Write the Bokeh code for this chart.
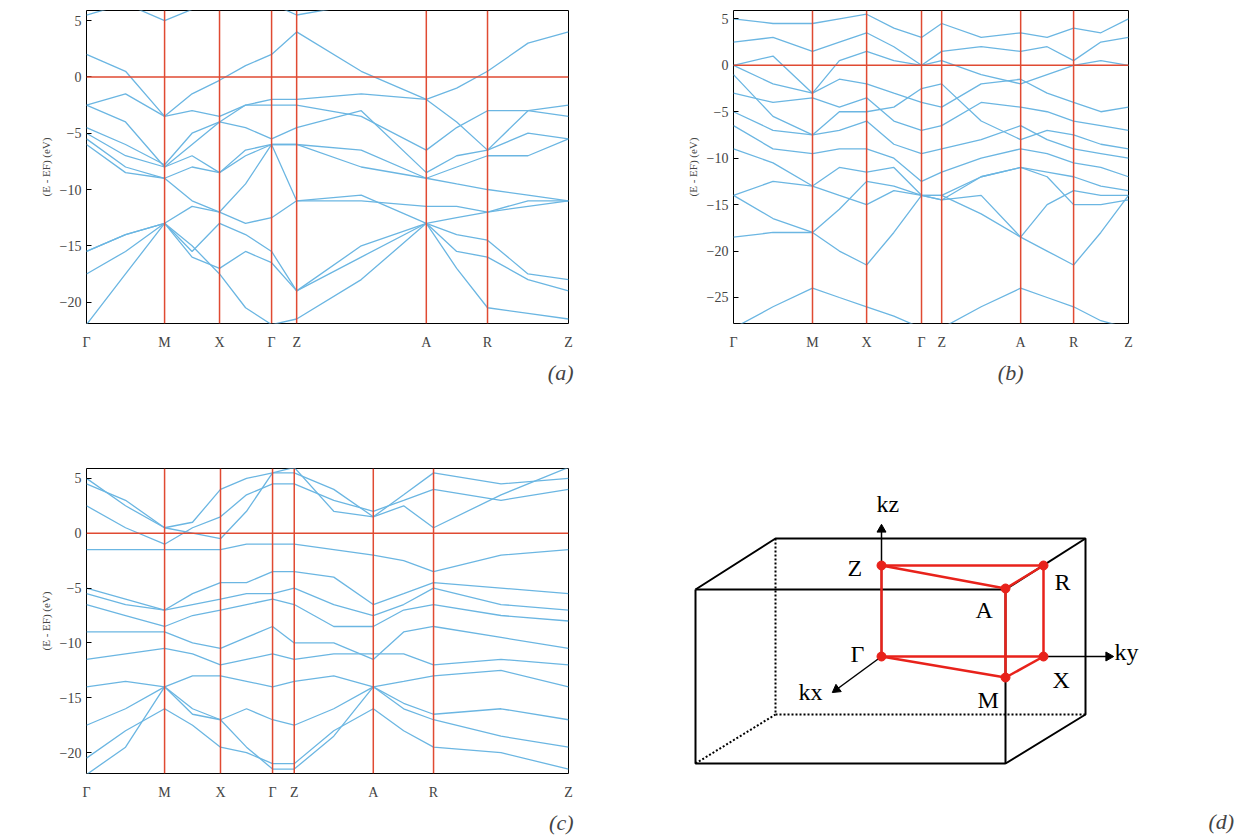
from bokeh.plotting import figure
from bokeh.layouts import column, row
from bokeh.models import FixedTicker, Span, Title, Range1d, Label
from bokeh.embed import file_html
from bokeh.resources import INLINE

# k-path (high-symmetry points) and the sample points used for each band
path_labels = ["Γ", "M", "X", "Γ", "Z", "A", "R", "Z"]
a_ticks = [0, 1.62, 2.76, 3.84, 4.36, 7.05, 8.32, 10]
a_k = [0, 0.81, 1.62, 2.19, 2.76, 3.30, 3.84, 4.36, 5.70, 7.05, 7.68, 8.32, 9.16, 10]
b_ticks = [0, 2.0, 3.37, 4.76, 5.27, 7.27, 8.61, 10]
b_k = [0, 1.0, 2.0, 2.68, 3.37, 4.06, 4.76, 5.27, 6.27, 7.27, 7.94, 8.61, 9.3, 10]
c_ticks = [0, 1.62, 2.78, 3.86, 4.31, 5.95, 7.2, 10]
c_k = [0, 0.81, 1.62, 2.2, 2.78, 3.32, 3.86, 4.31, 5.13, 5.95, 6.58, 7.2, 8.6, 10]

a_bands = [
    [2.0, 0.5, -3.5, -1.5, -0.3, 1.0, 2.0, 4.0, 0.5, -2.0, -1.0, 0.5, 3.0, 4.0],
    [5.5, 6.5, 5.0, 6.0, 6.5, 6.5, 6.5, 5.5, 6.5, 6.5, 6.5, 6.5, 6.5, 6.5],
    [-2.5, -4.0, -8.0, -6.0, -4.0, -2.5, -2.0, -2.0, -1.5, -2.0, -4.0, -6.5, -3.0, -2.5],
    [-2.5, -1.5, -3.5, -3.0, -3.5, -2.5, -2.5, -2.5, -3.5, -6.5, -4.5, -3.0, -3.0, -3.5],
    [-4.5, -6.0, -7.8, -5.0, -4.0, -4.5, -5.5, -4.5, -3.0, -8.5, -7.0, -6.5, -5.0, -5.5],
    [-5.0, -7.0, -8.0, -7.0, -8.5, -6.5, -6.0, -6.0, -6.5, -9.0, -8.0, -7.0, -7.0, -5.5],
    [-5.5, -8.0, -9.0, -8.0, -8.5, -7.0, -6.0, -6.0, -8.0, -9.0, -9.5, -10.0, -10.5, -11.0],
    [-6.0, -8.5, -9.0, -11.0, -12.0, -9.5, -6.0, -11.0, -11.0, -11.5, -11.5, -12.0, -11.5, -11.0],
    [-15.5, -14.0, -13.0, -11.5, -12.0, -13.0, -12.5, -11.0, -10.5, -13.0, -12.5, -12.0, -11.0, -11.0],
    [-15.5, -14.0, -13.0, -15.5, -13.0, -14.0, -15.5, -19.0, -15.0, -13.0, -14.0, -14.5, -17.5, -18.0],
    [-17.5, -15.5, -13.0, -16.0, -17.0, -15.5, -16.5, -19.0, -16.0, -13.0, -15.5, -16.0, -18.0, -19.0],
    [-22.0, -17.5, -13.0, -15.0, -17.5, -20.5, -22.0, -21.5, -18.0, -13.0, -17.0, -20.5, -21.0, -21.5],
]

b_bands = [
    [-28.3, -26.0, -24.0, -25.0, -26.0, -27.0, -28.3, -28.3, -26.0, -24.0, -25.0, -26.0, -27.5, -28.3],
    [-18.5, -18.0, -18.0, -20.0, -21.5, -18.0, -14.0, -14.0, -16.0, -18.5, -20.0, -21.5, -18.0, -14.0],
    [-14.0, -16.5, -18.0, -15.5, -12.5, -13.0, -14.0, -14.5, -14.0, -18.5, -15.0, -13.5, -14.0, -14.0],
    [-14.0, -12.5, -13.0, -14.0, -15.0, -13.5, -14.0, -14.5, -12.0, -11.0, -12.0, -15.0, -15.0, -14.5],
    [-9.0, -10.5, -13.0, -11.0, -11.5, -11.0, -14.0, -14.0, -12.0, -11.0, -11.5, -12.0, -13.0, -13.5],
    [-6.5, -9.0, -9.5, -9.0, -9.0, -10.0, -12.5, -11.5, -10.0, -9.0, -9.5, -10.5, -11.0, -12.0],
    [-5.0, -7.0, -7.5, -7.0, -6.0, -8.5, -9.5, -9.0, -8.0, -6.5, -8.0, -9.0, -9.5, -10.0],
    [-3.0, -4.0, -3.5, -4.5, -3.5, -6.0, -7.0, -6.5, -4.0, -4.5, -5.0, -6.0, -6.5, -7.0],
    [-1.0, -5.5, -7.5, -5.0, -5.0, -4.5, -2.5, -2.0, -6.0, -8.0, -7.0, -7.5, -8.5, -9.0],
    [0.0, -2.0, -3.0, -1.5, -2.0, -3.0, -4.0, -4.5, -2.0, -1.5, -3.0, -4.0, -5.0, -4.5],
    [0.0, 1.0, -3.0, 0.5, 1.5, 0.5, 0.0, 0.5, -1.0, -2.0, -1.0, 0.0, 0.5, 0.0],
    [2.5, 3.0, 1.5, 2.5, 3.5, 2.0, 0.0, 1.5, 2.0, 1.5, 2.0, 0.5, 2.5, 3.0],
    [5.0, 4.5, 4.5, 5.0, 5.5, 4.0, 3.0, 4.5, 3.0, 3.5, 3.0, 4.0, 3.5, 5.0],
]

c_bands = [
    [4.5, 3.0, 0.5, 1.0, 4.0, 5.0, 5.5, 5.5, 4.0, 1.5, 3.5, 5.5, 4.5, 5.0],
    [5.0, 2.5, 0.5, 0.0, -0.5, 2.0, 5.5, 6.0, 2.0, 1.5, 2.5, 0.5, 3.5, 6.0],
    [2.5, 0.5, -1.0, 0.5, 1.5, 3.5, 4.5, 4.5, 3.0, 2.0, 3.0, 4.0, 3.0, 4.0],
    [-1.5, -1.5, -1.5, -1.5, -1.5, -1.0, -1.0, -1.0, -1.5, -2.0, -2.5, -3.5, -2.0, -1.5],
    [-5.0, -6.0, -7.0, -5.5, -4.5, -4.5, -3.5, -3.5, -4.0, -6.5, -5.5, -4.5, -5.0, -5.5],
    [-5.5, -6.5, -7.0, -6.5, -6.0, -5.5, -5.5, -5.0, -6.5, -7.5, -6.5, -5.0, -6.5, -7.0],
    [-6.5, -7.5, -8.5, -7.5, -7.0, -6.5, -6.0, -6.5, -8.5, -8.5, -7.0, -6.5, -7.5, -8.0],
    [-9.0, -9.0, -9.0, -10.0, -10.5, -9.5, -8.5, -10.0, -10.0, -11.5, -9.0, -8.5, -9.5, -10.5],
    [-11.5, -11.0, -10.5, -11.0, -12.0, -11.5, -11.0, -11.5, -11.0, -11.0, -11.0, -12.0, -11.5, -12.0],
    [-14.0, -13.5, -14.0, -13.0, -13.0, -13.5, -14.0, -13.5, -13.0, -14.0, -13.5, -13.0, -12.5, -14.0],
    [-17.5, -16.0, -14.0, -16.0, -17.0, -16.0, -17.0, -17.5, -16.0, -14.0, -15.5, -16.5, -16.0, -17.0],
    [-20.5, -18.0, -16.0, -17.5, -19.5, -20.0, -21.0, -21.0, -18.0, -16.0, -18.0, -19.5, -20.0, -21.5],
    [-22.0, -19.5, -14.0, -16.5, -17.0, -19.5, -21.5, -21.5, -18.5, -14.0, -16.0, -17.0, -18.5, -19.5],
]

# Brillouin zone sketch, in picture pixels (x right, y down)
box_solid = [
    ([695, 1005, 1005, 695, 695], [588, 588, 762, 762, 588]),
    ([695, 775, 1085, 1085, 1005], [588, 537, 537, 713, 762]),
    ([1005, 1085], [588, 537]),
]
box_dotted = [([775, 775, 1085], [537, 713, 713]), ([695, 775], [762, 713])]
bz_names = ["Γ", "X", "M", "Z", "R", "A"]
bz_x = [881, 1043, 1005, 881, 1043, 1005]
bz_y = [655, 655, 676, 564, 564, 587]
bz_edges = [("Γ", "X"), ("Γ", "M"), ("M", "X"), ("Z", "R"), ("Z", "A"), ("A", "R"),
            ("Γ", "Z"), ("M", "A"), ("X", "R")]
lab_x = [850, 1052, 977, 847, 1054, 975]
lab_y = [652, 678, 698, 566, 580, 608]
axis_names = ["kz", "ky", "kx"]
axis_end_x = [881, 1108, 836]
axis_end_y = [528, 655, 688]
axis_lab_x = [876, 1114, 798]
axis_lab_y = [502, 650, 690]

BAND = "#6BB6E2"
RED = "#E04A32"
SERIF = "Liberation Serif"


def band_panel(k, ticks, bands, yr, w, h, left, right, bottom, top, tag, tag_off):
    p = figure(width=w, height=h, output_backend="svg", toolbar_location=None, title=None,
               x_range=(0, 10), y_range=yr, min_border_left=left, min_border_right=right,
               min_border_bottom=bottom, min_border_top=top,
               outline_line_color="black", outline_line_width=1)
    p.grid.visible = False
    p.multi_line([k] * len(bands), bands, line_color=BAND, line_width=1.3)
    for t in ticks[1:-1]:
        p.add_layout(Span(location=t, dimension="height", line_color=RED, line_width=1.5))
    p.add_layout(Span(location=0, dimension="width", line_color=RED, line_width=1.5))
    p.xaxis.ticker = FixedTicker(ticks=ticks)
    p.xaxis.major_label_overrides = {t: s for t, s in zip(ticks, path_labels)}
    p.xaxis.major_tick_line_color = None
    p.xaxis.axis_line_color = None
    p.yaxis.axis_line_color = None
    p.yaxis.ticker = FixedTicker(ticks=list(range(-30, 6, 5)))
    p.yaxis.major_tick_in = 5
    p.yaxis.major_tick_out = 0
    p.yaxis.minor_tick_line_color = None
    p.axis.major_label_text_font = SERIF
    p.axis.major_label_text_font_size = "14px"
    p.yaxis.axis_label = "(E - EF) (eV)"
    p.yaxis.axis_label_text_font = SERIF
    p.yaxis.axis_label_text_font_size = "11px"
    p.yaxis.axis_label_text_font_style = "normal"
    p.add_layout(Title(text=tag, align="right", offset=-5 + tag_off, text_font=SERIF,
                       text_font_size="22px", text_font_style="italic"), "below")
    return p


pa = band_panel(a_k, a_ticks, a_bands, (-21.9, 5.9), 648, 467, 86, 80, 144, 10, "(a)", 0)
pb = band_panel(b_k, b_ticks, b_bands, (-27.8, 5.9), 611, 467, 85, 131, 144, 10, "(b)", 110)
pc = band_panel(c_k, c_ticks, c_bands, (-21.9, 5.9), 648, 372, 86, 80, 57, 1, "(c)", 0)

pd = figure(frame_width=611, frame_height=372, output_backend="svg", toolbar_location=None,
            title=None, x_range=Range1d(648, 1259), y_range=Range1d(839, 467),
            x_axis_location=None, y_axis_location=None, min_border=0,
            outline_line_color=None)
pd.grid.visible = False
for xs, ys in box_solid:
    pd.line(xs, ys, line_color="black", line_width=2)
for xs, ys in box_dotted:
    pd.line(xs, ys, line_color="black", line_width=2, line_dash="2 2")
pos = {n: (x, y) for n, x, y in zip(bz_names, bz_x, bz_y)}
# axes arrows (kz from Γ, ky from X, kx from Γ)
starts = [pos["Γ"], pos["X"], pos["Γ"]]
for (sx, sy), ex, ey in zip(starts, axis_end_x, axis_end_y):
    pd.line([sx, ex], [sy, ey], line_color="black", line_width=1.5)
pd.scatter(axis_end_x, axis_end_y, marker="triangle", size=9, color="black",
           angle=[0, -1.5708, 2.2])
pd.text(axis_lab_x, axis_lab_y, axis_names, text_font=SERIF, text_font_size="24px",
        text_baseline="middle")
for s, e in bz_edges:
    pd.line([pos[s][0], pos[e][0]], [pos[s][1], pos[e][1]], line_color="#E8221B", line_width=2.5)
pd.scatter(bz_x, bz_y, size=9, color="#E8221B")
pd.text(lab_x, lab_y, bz_names, text_font=SERIF, text_font_size="24px", text_baseline="middle")
pd.add_layout(Label(x=1208, y=820, text="(d)", text_font=SERIF, text_font_size="22px",
                    text_font_style="italic", text_baseline="middle"))

layout = column(row(pa, pb), row(pc, pd))
open("out.html", "w").write(file_html(layout, INLINE))
